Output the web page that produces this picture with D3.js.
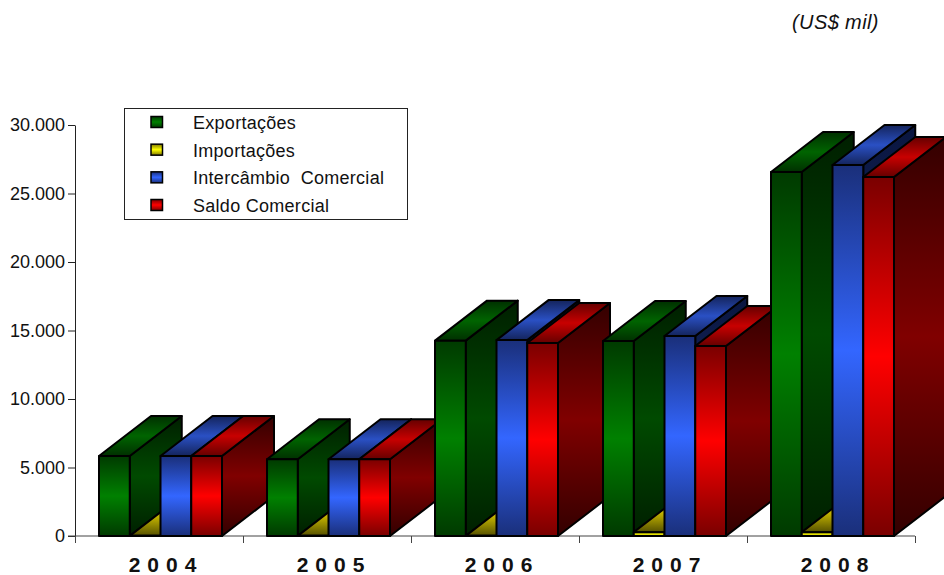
<!DOCTYPE html>
<html>
<head>
<meta charset="utf-8">
<script src="https://cdnjs.cloudflare.com/ajax/libs/d3/7.8.5/d3.min.js"></script>
<style>
  html, body { margin: 0; padding: 0; background: #fff; }
  svg { display: block; font-family: "Liberation Sans", Arial, sans-serif; }
</style>
</head>
<body>
<div id="chart"></div>
<script>
var width = 944;
var height = 575;

// data
var years = ["2004", "2005", "2006", "2007", "2008"];
var seriesNames = ["Exportações", "Importações", "Intercâmbio  Comercial", "Saldo Comercial"];
var exportacoes = [5840, 5600, 14260, 14230, 26570];
var importacoes = [10, 10, 10, 280, 280];
var intercambio = [5840, 5600, 14300, 14600, 27080];
var saldo = [5840, 5600, 14090, 13870, 26200];
var allValues = [exportacoes, importacoes, intercambio, saldo];
var yTicks = [0, 5000, 10000, 15000, 20000, 25000, 30000];

// face colours per series: [edge, middle]
var faceColors = [
  { front: ["#003a00", "#008000"], top: ["#003000", "#006400"], side: ["#001f00", "#004a00"] },
  { front: ["#807800", "#ffff00"], top: ["#555000", "#c8b800"], side: ["#403c00", "#807800"] },
  { front: ["#1a2f7a", "#3366ff"], top: ["#14245c", "#2a50c4"], side: ["#0a1640", "#14265f"] },
  { front: ["#7a0000", "#ff0000"], top: ["#660000", "#c80000"], side: ["#330000", "#800000"] }
];

// depth of the 3d boxes
var depthX = 52;
var depthY = 40;

var x = d3.scaleBand().domain(years).range([75, 915]);
var x1 = d3.scaleBand().domain(d3.range(4)).range([24, 147]);
var y = d3.scaleLinear().domain([0, 30000]).range([536, 125]);

var svg = d3.select("#chart").append("svg")
  .attr("width", width)
  .attr("height", height);

var defs = svg.append("defs");
faceColors.forEach(function (c, i) {
  ["front", "top", "side"].forEach(function (face) {
    var g = defs.append("linearGradient")
      .attr("id", face + i)
      .attr("x1", 0).attr("y1", 0).attr("x2", 0).attr("y2", 1);
    g.append("stop").attr("offset", "0%").attr("stop-color", c[face][0]);
    g.append("stop").attr("offset", "50%").attr("stop-color", c[face][1]);
    g.append("stop").attr("offset", "100%").attr("stop-color", c[face][0]);
  });
});

// axes
var yAxis = d3.axisLeft(y)
  .tickValues(yTicks)
  .tickSize(7)
  .tickSizeOuter(0)
  .tickPadding(3)
  .tickFormat(function (d) { return d3.format(",")(d).replace(",", "."); });

var gy = svg.append("g").attr("transform", "translate(75,0)").call(yAxis);
gy.selectAll("text").attr("font-size", 18).attr("font-family", "Liberation Sans").attr("fill", "#111");
gy.selectAll("line, path").attr("stroke", "#222");

var gx = svg.append("g").attr("transform", "translate(0,536)");
gx.append("line").attr("x1", 68).attr("x2", 915).attr("stroke", "#444");
gx.selectAll(".sep").data(years.concat(["end"])).enter().append("line")
  .attr("class", "sep")
  .attr("x1", function (d, i) { return x.range()[0] + i * x.bandwidth() + 0.5; })
  .attr("x2", function (d, i) { return x.range()[0] + i * x.bandwidth() + 0.5; })
  .attr("y2", 7)
  .attr("stroke", "#444");
gx.selectAll(".yr").data(years).enter().append("text")
  .attr("class", "yr")
  .attr("x", function (d) { return x(d) + x.bandwidth() / 2 + 7; })
  .attr("y", 36)
  .attr("text-anchor", "middle")
  .attr("font-size", 21)
  .attr("font-weight", "bold")
  .attr("letter-spacing", 7)
  .attr("fill", "#111")
  .text(function (d) { return d; });

// boxes, left to right so the next one covers the side of the last
years.forEach(function (year, yi) {
  allValues.forEach(function (vals, si) {
    var x0 = x(year) + x1(si);
    var x2 = x0 + x1.bandwidth();
    var top = y(vals[yi]);
    var base = y(0);
    var box = svg.append("g").attr("stroke", "#000").attr("stroke-width", 2).attr("stroke-linejoin", "round");

    box.append("polygon")
      .attr("points", [[x2, top], [x2 + depthX, top - depthY], [x2 + depthX, base - depthY], [x2, base]].join(" "))
      .attr("fill", "url(#side" + si + ")");
    box.append("polygon")
      .attr("points", [[x0, top], [x0 + depthX, top - depthY], [x2 + depthX, top - depthY], [x2, top]].join(" "))
      .attr("fill", "url(#top" + si + ")");
    box.append("rect")
      .attr("x", x0)
      .attr("y", top)
      .attr("width", x2 - x0)
      .attr("height", base - top)
      .attr("fill", "url(#front" + si + ")");
  });
});

// legend
var legend = svg.append("g");
legend.append("rect")
  .attr("x", 124.5).attr("y", 108.5)
  .attr("width", 283).attr("height", 111)
  .attr("fill", "#fff").attr("stroke", "#222");

var legendY = d3.scalePoint().domain(d3.range(4)).range([122, 205]);
seriesNames.forEach(function (name, i) {
  legend.append("rect")
    .attr("x", 151).attr("y", legendY(i) - 5.5)
    .attr("width", 11.5).attr("height", 11)
    .attr("fill", "url(#front" + i + ")")
    .attr("stroke", "#000").attr("stroke-width", 1.5);
  legend.append("text")
    .attr("x", 193).attr("y", legendY(i) + 7)
    .attr("font-size", 18)
    .attr("letter-spacing", 0.28)
    .attr("fill", "#111")
    .style("white-space", "pre")
    .text(name);
});

// unit
svg.append("text")
  .attr("x", 792).attr("y", 29)
  .attr("font-size", 20)
  .attr("font-style", "italic")
  .attr("letter-spacing", 0.4)
  .attr("fill", "#111")
  .text("(US$ mil)");
</script>
</body>
</html>
